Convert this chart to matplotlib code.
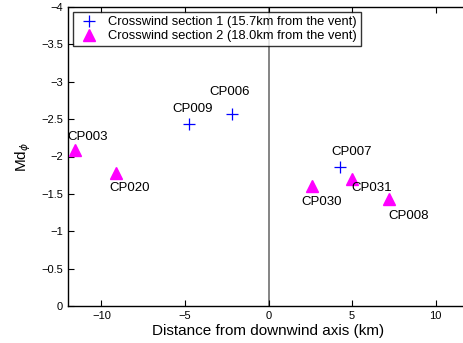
import matplotlib
matplotlib.use("Agg")
import matplotlib.pyplot as plt

plt.rcParams['font.family'] = ['Liberation Sans', 'DejaVu Sans']

# Crosswind section 1
s1_names = ["CP009", "CP006", "CP007"]
s1_x = [-4.73, -2.16, 4.25]
s1_y = [-2.43, -2.57, -1.86]

# Crosswind section 2
s2_names = ["CP003", "CP020", "CP030", "CP031", "CP008"]
s2_x = [-11.6, -9.1, 2.63, 4.97, 7.19]
s2_y = [-2.09, -1.78, -1.60, -1.70, -1.43]

label_offsets = {
    "CP009": (3, 15), "CP006": (-3, 22), "CP007": (12, 15),
    "CP003": (13, 13), "CP020": (13, -15), "CP030": (9, -16),
    "CP031": (20, -9), "CP008": (20, -17),
}

xticks = [-10, -5, 0, 5, 10]
yticks = [-4, -3.5, -3, -2.5, -2, -1.5, -1, -0.5, 0]
ytick_labels = ["\u22124", "\u22123.5", "\u22123", "\u22122.5", "\u22122", "\u22121.5", "\u22121", "\u22120.5", "0"]
xtick_labels = ["\u221210", "\u22125", "0", "5", "10"]

fig = plt.figure(figsize=(4.63, 3.43), dpi=100)
ax = fig.add_axes([68/463, 37/343, 401/463, 299/343])

ax.axvline(0, color='#707070', lw=1.2, zorder=1)
ax.plot(s1_x, s1_y, linestyle='none', marker='+', color='blue', ms=8, mew=0.9,
        label='Crosswind section 1 (15.7km from the vent)', zorder=3)
ax.plot(s2_x, s2_y, linestyle='none', marker='^', color='magenta', ms=8,
        label='Crosswind section 2 (18.0km from the vent)', zorder=3)

for names, xs, ys in [(s1_names, s1_x, s1_y), (s2_names, s2_x, s2_y)]:
    for n, x, y in zip(names, xs, ys):
        dx, dy = label_offsets[n]
        ax.annotate(n, (x, y), xytext=(dx * 0.72, dy * 0.72), textcoords='offset points',
                    ha='center', va='center', fontsize=9.5)

ax.set_xlim(-12, 12)
ax.set_ylim(0, -4)
ax.set_xticks(xticks)
ax.set_xticklabels(xtick_labels)
ax.set_yticks(yticks)
ax.set_yticklabels(ytick_labels)
ax.tick_params(direction='in', top=True, right=False, labelsize=8, length=4, width=0.8)
ax.spines['right'].set_visible(False)
for s in ax.spines.values():
    s.set_linewidth(1.0)

ax.set_xlabel('Distance from downwind axis (km)', fontsize=11, labelpad=2)
ax.set_ylabel('Md$_\\phi$', fontsize=11, labelpad=6)

leg = ax.legend(loc='upper left', fontsize=9.3, frameon=True, fancybox=False,
                edgecolor='black', borderpad=0.3, handletextpad=0.6, labelspacing=0.15,
                borderaxespad=0.4, handlelength=1.8)
leg.get_frame().set_linewidth(1.0)

fig.savefig('out.png', dpi=100)
